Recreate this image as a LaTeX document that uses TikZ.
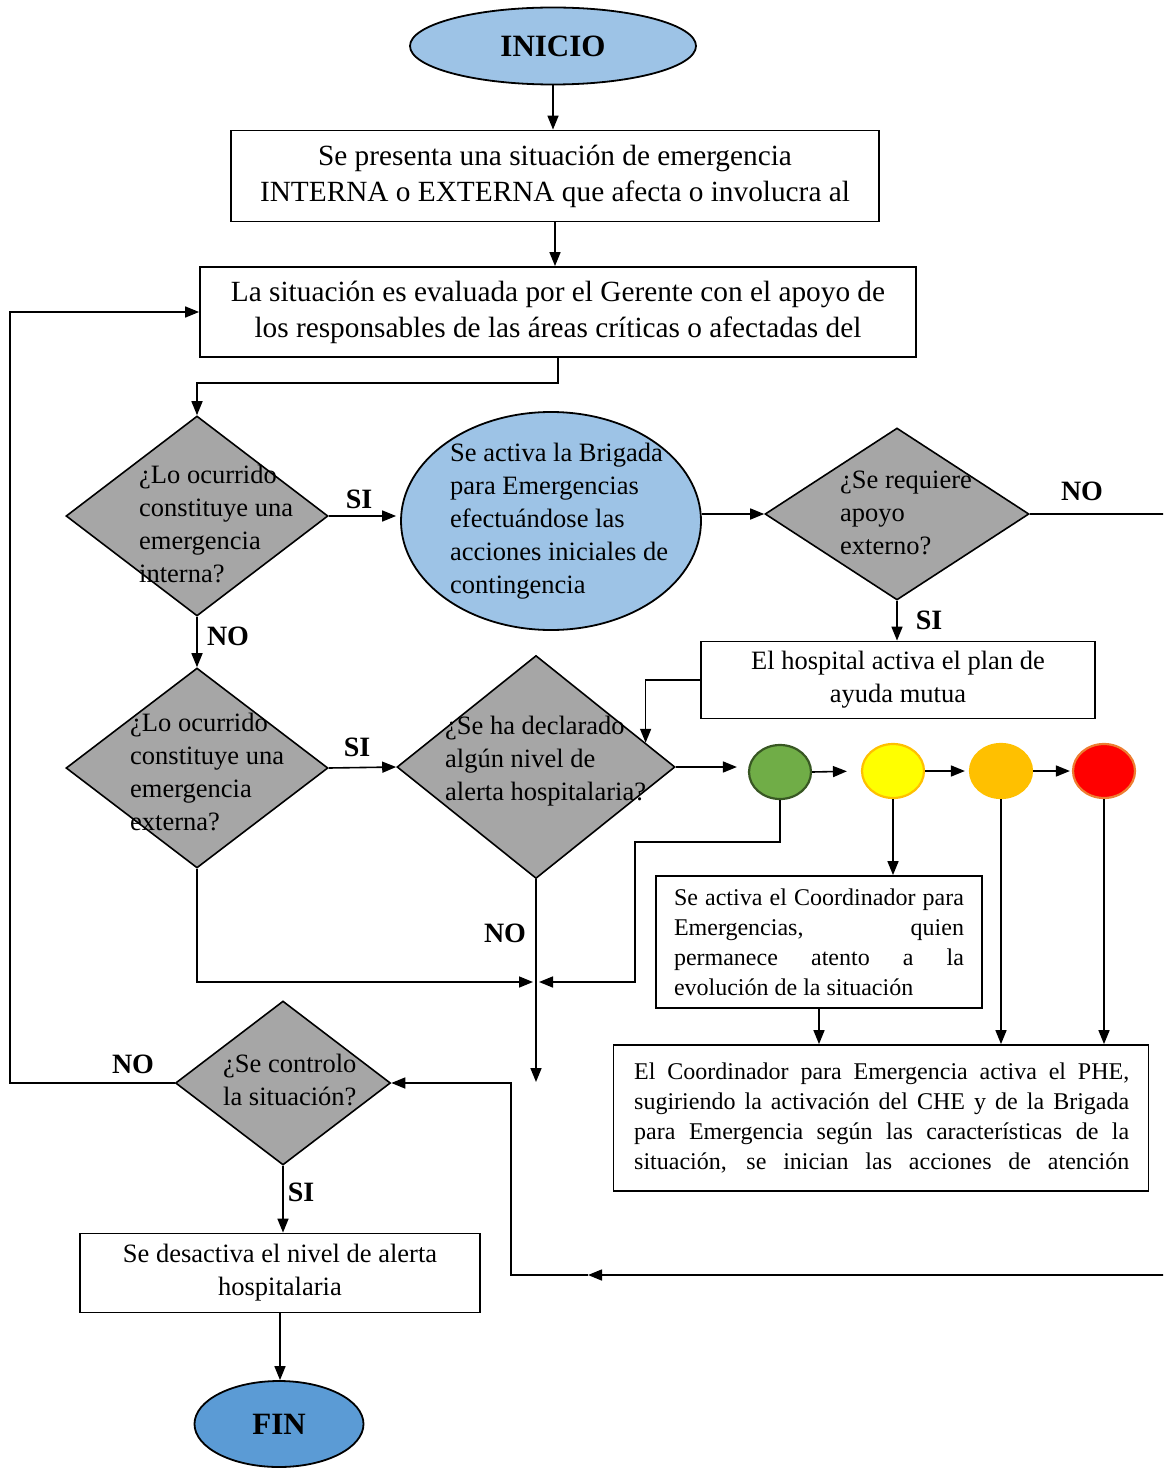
\documentclass[tikz,border=0pt]{standalone}
\usepackage{fontspec}
\setmainfont{Liberation Serif}
\usetikzlibrary{arrows.meta,positioning,calc,shapes.geometric}
\definecolor{lblue}{HTML}{9DC3E6}
\definecolor{mblue}{HTML}{5B9BD5}
\definecolor{dgray}{HTML}{A6A6A6}
\definecolor{lgreen}{HTML}{70AD47}
\definecolor{dgreen}{HTML}{385723}
\definecolor{lyellow}{HTML}{FFFF00}
\definecolor{lamber}{HTML}{FFC000}
\definecolor{lred}{HTML}{FF0000}
\definecolor{lorange}{HTML}{ED7D31}
\newcommand\txtbox{\fontsize{26.5}{33}\selectfont}
\newcommand\txtwide{\fontsize{29.3}{36}\selectfont}
\newcommand\txtq{\fontsize{26.5}{33}\selectfont}
\newcommand\txtsm{\fontsize{24}{30}\selectfont}
\newcommand\txttag{\fontsize{28}{30}\selectfont\bfseries}
\newcommand\txtterm{\fontsize{31}{33}\selectfont\bfseries}
\tolerance=10000
\tikzset{
  box/.style={draw, line width=1.8pt, fill=white, inner sep=0pt, align=center, font=\txtbox},
  term/.style={ellipse, draw, line width=1.8pt, inner sep=0pt, font=\txtterm},
  decision/.style={diamond, draw, line width=1.6pt, fill=dgray, inner sep=0pt},
  qtext/.style={anchor=west, align=left, inner sep=0pt, font=\txtq},
  lamp/.style={ellipse, line width=2.2pt, minimum width=62pt, minimum height=54pt, inner sep=0pt},
  tag/.style={inner sep=0pt, font=\txttag},
  flow/.style={-{Triangle[length=14pt,width=11pt]}, line width=1.6pt},
}
\begin{document}
\begin{tikzpicture}[x=1pt,y=-1pt]
  \clip (0,0) rectangle (1163,1471);
  \node[term,fill=lblue,minimum width=286pt,minimum height=77pt](inicio) at (553,46){INICIO};
  \node[box,font=\txtwide,minimum width=648pt,minimum height=91pt](b1) at (555,176){Se presenta una situación de emergencia\\INTERNA o EXTERNA que afecta o involucra al};
  \node[box,font=\txtwide,minimum width=716pt,minimum height=90pt](b2) at (558,312){La situación es evaluada por el Gerente con el apoyo de\\los responsables de las áreas críticas o afectadas del};
  \node[decision,minimum width=262pt,minimum height=200pt](d1) at (197,516){};
  \node[qtext](d1t) at (139,524){¿Lo ocurrido\\constituye una\\emergencia\\interna?};
  \node[ellipse,draw,line width=1.8pt,fill=lblue,minimum width=300pt,minimum height=218pt,inner sep=0pt](e2) at (551,521){};
  \node[qtext](e2t) at (450,521){Se activa la Brigada\\para Emergencias\\efectuándose las\\acciones iniciales de\\contingencia};
  \node[decision,minimum width=264pt,minimum height=172pt](d3) at (897,514){};
  \node[qtext](d3t) at (840,513){¿Se requiere\\apoyo\\externo?};
  \node[box,minimum width=394pt,minimum height=77pt](b3) at (898,680){El hospital activa el plan de\\ayuda mutua};
  \node[decision,minimum width=262pt,minimum height=200pt](d2) at (197,768){};
  \node[qtext](d2t) at (130,772){¿Lo ocurrido\\constituye una\\emergencia\\externa?};
  \node[decision,minimum width=278pt,minimum height=223pt](d4) at (536,767){};
  \node[qtext](d4t) at (445,761){¿Se ha declarado\\algún nivel de\\alerta hospitalaria?};
  \node[lamp,fill=lgreen,draw=dgreen](cg) at (780,772){};
  \node[lamp,fill=lyellow,draw=lamber](cy) at (893,771){};
  \node[lamp,fill=lamber,draw=lamber](ca) at (1001,771){};
  \node[lamp,fill=lred,draw=lorange](cr) at (1104,771){};
  \node[box,minimum width=326pt,minimum height=132pt,text width=290pt,align=justify,font=\txtsm](b4) at (819,942){Se activa el Coordinador para\linebreak Emergencias, quien\linebreak permanece atento a la\linebreak evolución de la situación};
  \node[box,minimum width=535pt,minimum height=146pt](b5) at (881,1118){};
  \node[anchor=north west,inner sep=0pt,text width=495pt,align=justify,font=\txtsm](b5t) at (634,1063){El Coordinador para Emergencia activa el PHE,\linebreak sugiriendo la activación del CHE y de la Brigada\linebreak para Emergencia según las características de la\linebreak situación, se inician las acciones de atención\linebreak};
  \node[decision,minimum width=215pt,minimum height=164pt](d5) at (283,1083){};
  \node[qtext](d5t) at (223,1080){¿Se controlo\\la situación?};
  \node[box,minimum width=400pt,minimum height=79pt](b6) at (280,1273){Se desactiva el nivel de alerta\\hospitalaria};
  \node[term,fill=mblue,minimum width=169pt,minimum height=86pt](fin) at (279,1424){FIN};
  \node[tag](si1) at (359,499){SI};
  \node[tag](no3) at (1082,491){NO};
  \node[tag](si3) at (929,620){SI};
  \node[tag](no1) at (228,636){NO};
  \node[tag](si2) at (357,747){SI};
  \node[tag](no4) at (505,933){NO};
  \node[tag](no5) at (133,1064){NO};
  \node[tag](si5) at (301,1192){SI};
  \coordinate (jn) at (536,982);
  \coordinate (dn) at (536,1082);
  \coordinate (lp) at (10,1083);
  \coordinate (rt) at (1175,514);
  \coordinate (rb) at (1175,1275);
  \coordinate (mk) at (588,1275);
  \coordinate (bl) at (511,1275);
  \coordinate (hit) at ($(d4.north)!0.784!(d4.east)$);
  \draw[flow](inicio)--(inicio|-b1.north);
  \draw[flow](b1.south)--(b1.south|-b2.north);
  \draw[flow](b2.south)--++(0,25)-|(d1.north);
  \draw[flow,shorten >=4pt](d1.east)--(d1.east-|e2.west);
  \draw[flow](e2.east|-d3.west)--(d3.west);
  \draw[flow](d3.south)--(d3.south|-b3.north);
  \draw[flow](b3.west)-|(hit);
  \draw[flow](d1.south)--(d2.north);
  \draw[flow](d2.east)--(d4.west);
  \draw[flow,shorten >=11pt](d4.east)--(cg.west|-d4.east);
  \draw[flow,shorten >=14pt](cg.east)--(cy.west);
  \draw[flow,shorten >=4pt](cy.east)--(ca.west);
  \draw[flow,shorten >=2pt](ca.east)--(cr.west);
  \draw[flow,shorten >=3pt](cg.south)|-(635,842)|-(jn);
  \draw[flow,shorten >=3pt](d2.south)|-(jn);
  \draw[flow](d4.south)--(dn);
  \draw[flow](cy.south)--(cy.south|-b4.north);
  \draw[flow](b4.south)--(b4.south|-b5.north);
  \draw[flow](ca.south)--(ca.south|-b5.north);
  \draw[flow](cr.south)--(cr.south|-b5.north);
  \draw[flow](d3.east)--(rt)--(rb)--(mk);
  \draw[flow](mk)--(bl)|-(d5.east);
  \draw[flow](d5.west)--(lp)|-(b2.west);
  \draw[flow](d5.south)--(d5.south|-b6.north);
  \draw[flow](b6.south)--(b6.south|-fin.north);
\end{tikzpicture}
\end{document}
